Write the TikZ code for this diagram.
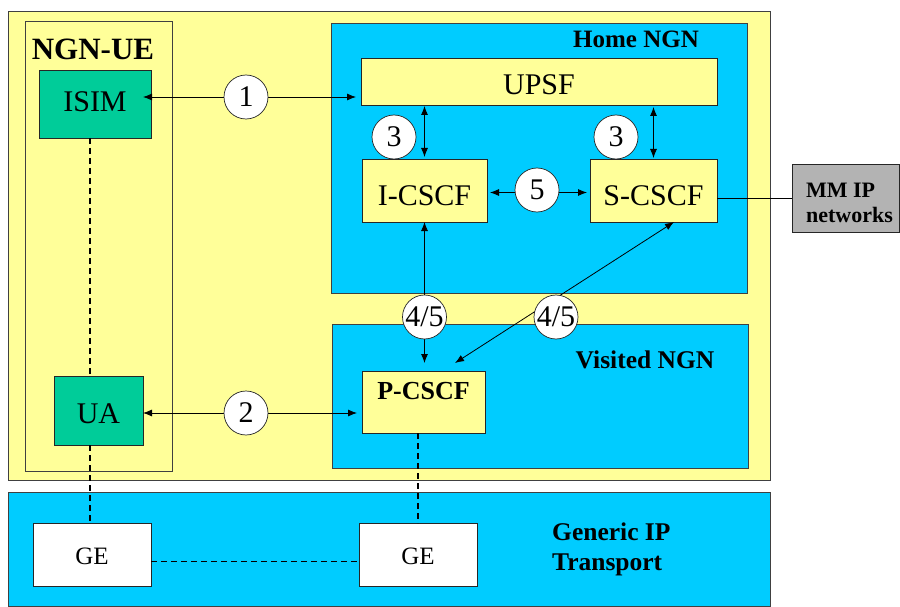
\documentclass[tikz,border=0pt]{standalone}
\usepackage{fontspec}
\setmainfont{Liberation Serif}
\usetikzlibrary{arrows.meta}
\definecolor{ylw}{HTML}{FFFF99}
\definecolor{cyn}{HTML}{00CCFF}
\definecolor{grn}{HTML}{00CC99}
\definecolor{gry}{HTML}{B3B3B3}
\begin{document}
\begin{tikzpicture}[x=1pt,y=-1pt,
  region/.style={draw=black!75, line width=0.8pt, inner sep=0pt, outer sep=0pt, anchor=north west},
  fbox/.style={draw=black!85, line width=0.8pt, inner sep=0pt, outer sep=0pt, anchor=north west, text depth=0pt, font=\fontsize{30}{32}\selectfont},
  circ/.style={circle, draw=black!85, fill=white, line width=0.7pt, minimum size=44pt, inner sep=0pt, font=\fontsize{30}{32}\selectfont},
  conn/.style={line width=0.8pt, {Latex[length=9pt,width=7pt]}-{Latex[length=9pt,width=7pt]}},
  plain/.style={line width=0.8pt},
  dsh/.style={line width=1.6pt, dash pattern=on 6pt off 4pt},
  lbl/.style={font=\bfseries\fontsize{25}{30}\selectfont, inner sep=0pt, anchor=base}]
\useasboundingbox (0,0) rectangle (900,607);
% regions
\node[region, fill=ylw, minimum width=762pt, minimum height=469pt] (ngnarea) at (8,11) {};
\node[region, minimum width=147pt, minimum height=450pt] (ue) at (25,21) {};
\node[region, fill=cyn, minimum width=416pt, minimum height=270pt] (home) at (331,23) {};
\node[region, fill=cyn, minimum width=416pt, minimum height=144pt] (visited) at (332,324) {};
\node[region, fill=cyn, minimum width=762pt, minimum height=114pt] (transport) at (8,492) {};
% functional boxes
\node[fbox, fill=grn, minimum width=112pt, minimum height=68pt, text height=16pt] (isim) at (39,70) {ISIM};
\node[fbox, fill=grn, minimum width=89pt, minimum height=69pt, text height=25pt] (ua) at (54,376) {UA};
\node[fbox, fill=ylw, minimum width=356pt, minimum height=47pt, text height=27pt] (upsf) at (361,58) {UPSF};
\node[fbox, fill=ylw, minimum width=125pt, minimum height=63pt, text height=29pt] (icscf) at (362,159) {I-CSCF};
\node[fbox, fill=ylw, minimum width=127pt, minimum height=63pt, text height=29pt] (scscf) at (590,159) {S-CSCF};
\node[fbox, fill=ylw, minimum width=123pt, minimum height=62pt, text height=18pt, text depth=24pt, font=\bfseries\fontsize{26}{28}\selectfont] (pcscf) at (362,371) {P-CSCF};
\node[fbox, fill=gry, minimum width=107pt, minimum height=68pt] (mmip) at (792,164) {};
\node[inner sep=0pt, align=left, font=\bfseries\fontsize{22}{25}\selectfont] (mmiptxt) at ([xshift=4pt,yshift=-5pt]mmip.center) {MM IP\\networks};
\node[fbox, fill=white, minimum width=118pt, minimum height=63pt, text height=19pt, font=\fontsize{25}{27}\selectfont] (ge1) at (33,523) {GE};
\node[fbox, fill=white, minimum width=118pt, minimum height=63pt, text height=19pt, font=\fontsize{25}{27}\selectfont] (ge2) at (359,523) {GE};
% labels
\node[lbl, font=\bfseries\fontsize{31}{33}\selectfont] (uelbl) at (93,60) {NGN-UE};
\node[lbl] (homelbl) at (636,48) {Home NGN};
\node[lbl, font=\bfseries\fontsize{25.5}{30}\selectfont] (vislbl) at (645,368) {Visited NGN};
\node[lbl, anchor=base west, align=left, font=\bfseries\fontsize{25.5}{30}\selectfont] (translbl) at (552,570) {Generic IP\\Transport};
% circle positions
\coordinate (c1p) at (246,97);
\coordinate (c2p) at (246,413);
\coordinate (t1) at ([xshift=-8pt]isim.east);
\coordinate (t2) at ([xshift=-5pt]pcscf.west);
% connectors
\draw[conn, shorten >=5pt] (t1 |- c1p) -- (upsf.west |- c1p);
\draw[conn] (ua.east |- c2p) -- (t2 |- c2p);
\draw[conn, shorten <=1pt, shorten >=2pt] (icscf.north |- upsf.south) -- (icscf.north);
\draw[conn, shorten <=2pt, shorten >=1pt] (scscf.north |- upsf.south) -- (scscf.north);
\draw[conn, shorten <=3pt, shorten >=3pt] ([yshift=-2pt]icscf.east) -- ([yshift=-2pt]scscf.west);
\draw[conn, shorten >=8pt] (icscf.south) -- (icscf.south |- pcscf.north);
\coordinate (dA) at ([xshift=93pt,yshift=8pt]pcscf.north west);
\coordinate (dB) at ([xshift=84pt]scscf.south west);
\draw[conn] (dA) -- (dB);
\draw[plain] (scscf.east |- mmip.west) -- (mmip.west);
% dashed links
\coordinate (dx) at ([xshift=-5pt]isim.south);
\draw[dsh] (dx) -- (dx |- ua.north);
\draw[dsh] (dx |- ua.south) -- (dx |- ge1.north);
\draw[dsh] (ge2.north |- pcscf.south) -- (ge2.north);
\draw[dsh] ([yshift=-7pt]ge1.east) -- ([yshift=-7pt]ge2.west);
% reference-point circles
\node[circ] (c1) at (c1p) {1};
\node[circ] (c2) at (c2p) {2};
\node[circ] (c3a) at (394,137) {3};
\node[circ] (c3b) at (616,137) {3};
\node[circ] (c5) at (537,190) {5};
\node[circ] (c45a) at (424.5,317) {4/5};
\node[circ] (c45b) at (556,317) {4/5};
\end{tikzpicture}
\end{document}
